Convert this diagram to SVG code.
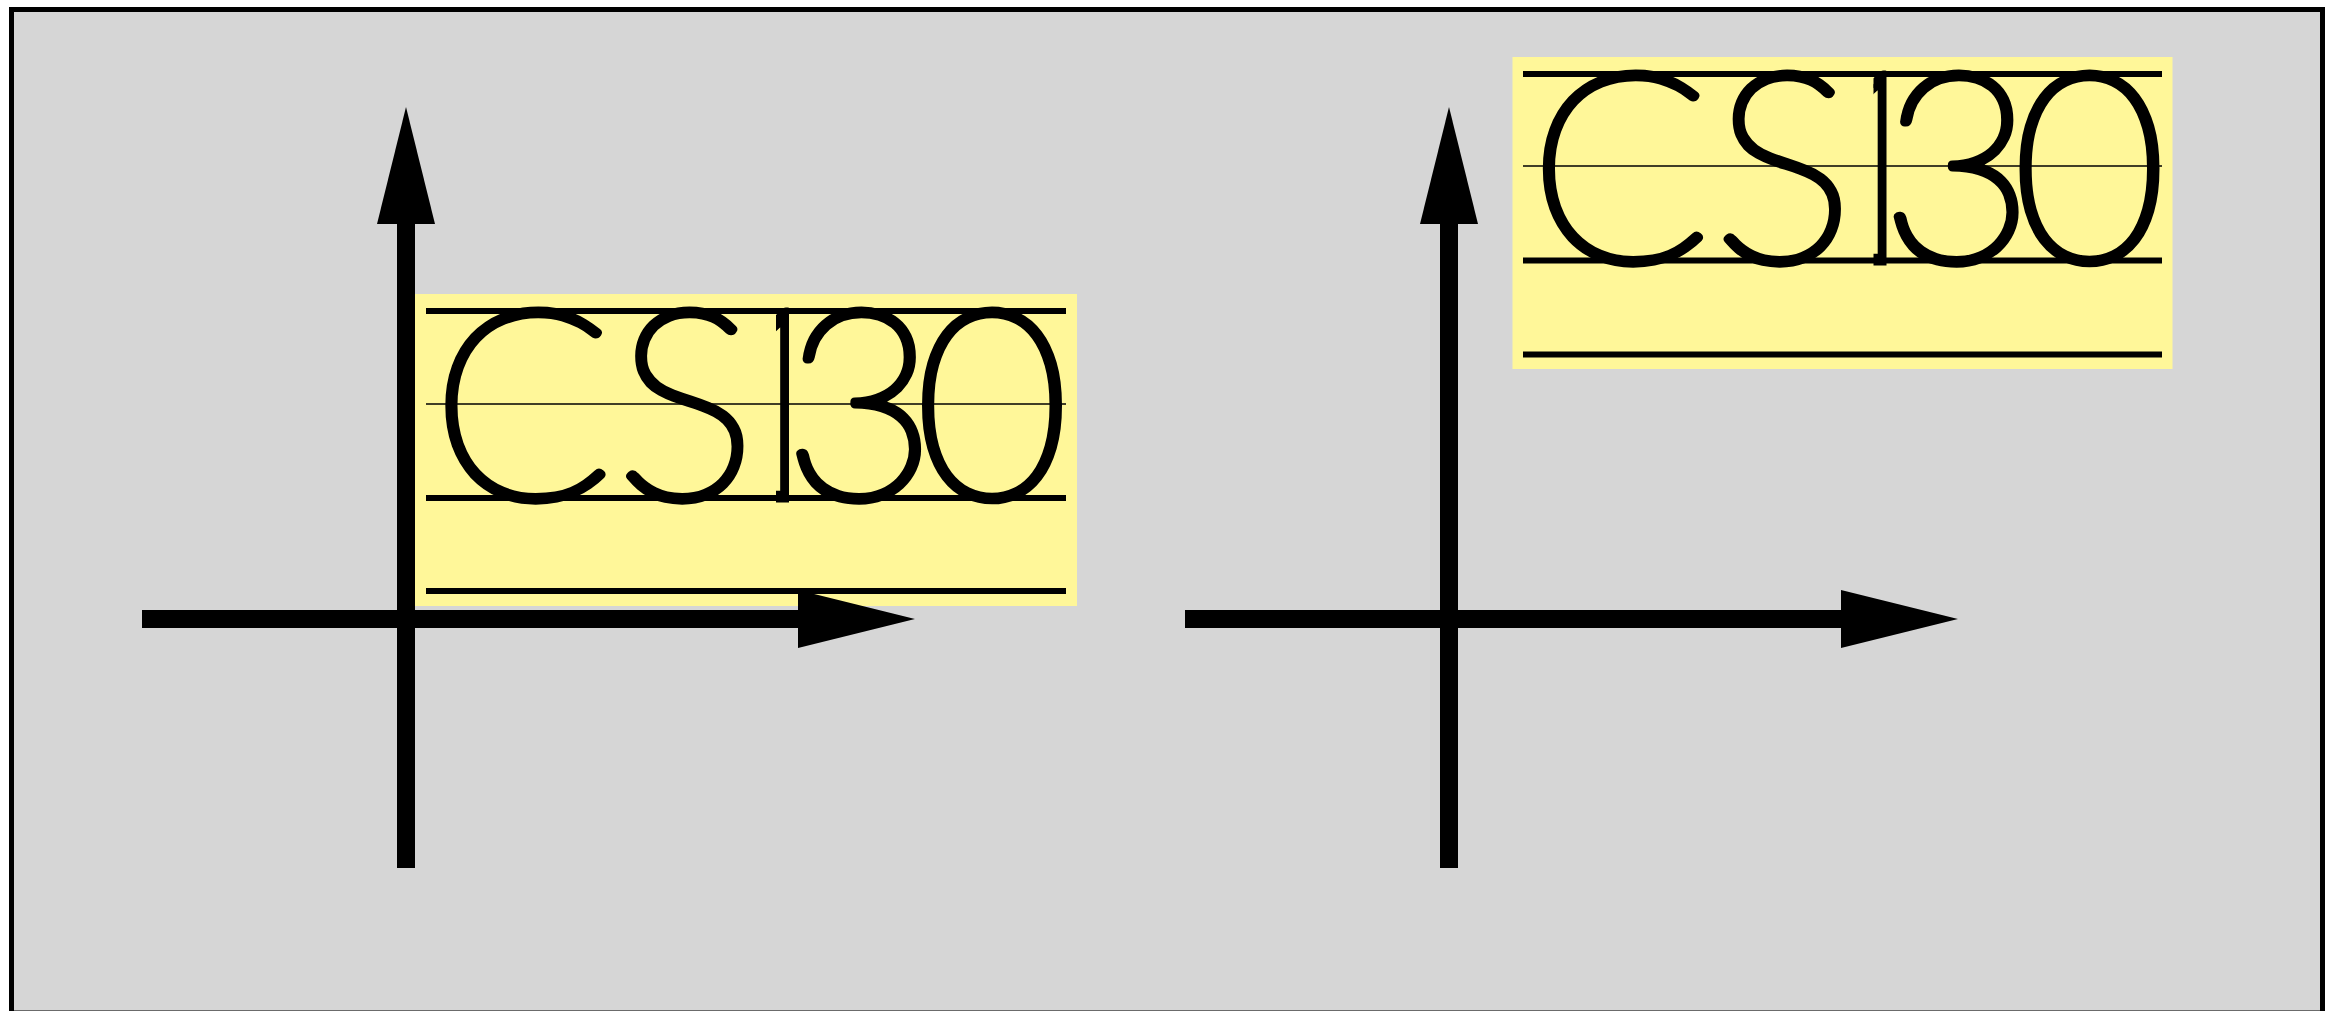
<svg xmlns="http://www.w3.org/2000/svg" width="2339" height="1011" viewBox="0 0 2339 1011">
  <style>
    .frame { fill: #d6d6d6; stroke: #000; stroke-width: 5; }
    .card { fill: #fff799; }
    .rule { stroke: #000; stroke-width: 6; fill: none; }
    .rule-mid { stroke: #000; stroke-opacity: 0.75; stroke-width: 2; fill: none; }
    .glyph { font-family: Lato, "Liberation Sans", sans-serif; font-weight: 100; font-size: 264px; fill: #000; stroke: #000; stroke-width: 9; stroke-linejoin: round; stroke-linecap: round; text-anchor: middle; }
    .axis { stroke: #000; stroke-width: 18; fill: none; }
  </style>
  <defs>
    <marker id="head" markerUnits="userSpaceOnUse" markerWidth="117" markerHeight="58" refX="0" refY="29" orient="auto" viewBox="0 0 117 58">
      <path d="M0,0 L117,29 L0,58 Z" fill="#000"/>
    </marker>
    <clipPath id="bar-left" clipPathUnits="userSpaceOnUse">
      <rect x="776" y="290" width="13" height="220"/>
    </clipPath>
    <clipPath id="bar-right" clipPathUnits="userSpaceOnUse">
      <rect x="1873.5" y="53" width="13" height="220"/>
    </clipPath>
  </defs>
  <rect id="frame" class="frame" x="11.5" y="9.5" width="2311" height="1003.5"/>

  <g id="label-left">
    <rect class="card" x="415" y="294" width="662" height="312"/>
    <line class="rule" x1="426" y1="311" x2="1066" y2="311"/>
    <line class="rule-mid" x1="426" y1="404" x2="1066" y2="404"/>
    <line class="rule" x1="426" y1="498" x2="1066" y2="498"/>
    <line class="rule" x1="426" y1="591" x2="1066" y2="591"/>
    <text class="glyph" x="522" y="498">C</text>
    <text class="glyph" x="686" y="498">S</text>
    <text class="glyph" x="779" y="498" clip-path="url(#bar-left)">1</text>
    <text class="glyph" x="860" y="498">3</text>
    <text class="glyph" x="992" y="498">0</text>
  </g>

  <g id="label-right">
    <rect class="card" x="1512.5" y="57" width="660" height="312"/>
    <line class="rule" x1="1523" y1="74" x2="2162" y2="74"/>
    <line class="rule-mid" x1="1523" y1="166" x2="2162" y2="166"/>
    <line class="rule" x1="1523" y1="260.5" x2="2162" y2="260.5"/>
    <line class="rule" x1="1523" y1="354.5" x2="2162" y2="354.5"/>
    <text class="glyph" x="1619.5" y="261">C</text>
    <text class="glyph" x="1783.5" y="261">S</text>
    <text class="glyph" x="1876.5" y="261" clip-path="url(#bar-right)">1</text>
    <text class="glyph" x="1957.5" y="261">3</text>
    <text class="glyph" x="2089.5" y="261">0</text>
  </g>

  <g id="connectors">
    <line class="axis" x1="142" y1="619" x2="798" y2="619" marker-end="url(#head)"/>
    <line class="axis" x1="406" y1="868" x2="406" y2="224" marker-end="url(#head)"/>
    <line class="axis" x1="1185" y1="619" x2="1841" y2="619" marker-end="url(#head)"/>
    <line class="axis" x1="1449" y1="868" x2="1449" y2="224" marker-end="url(#head)"/>
  </g>
</svg>
